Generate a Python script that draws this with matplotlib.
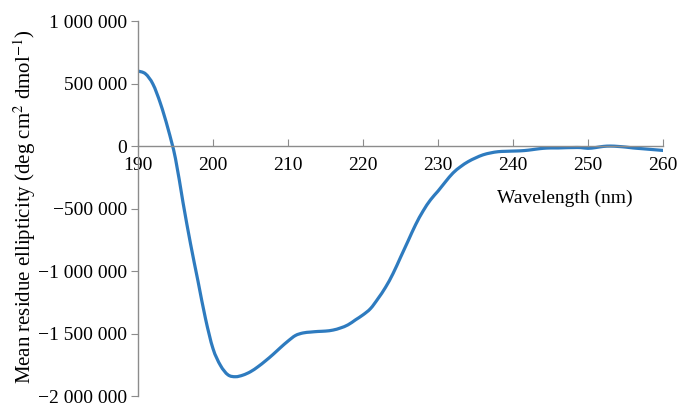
import numpy as np
import matplotlib
matplotlib.use("Agg")
import matplotlib.pyplot as plt
from matplotlib.path import Path
from matplotlib.patches import PathPatch
from matplotlib.ticker import FuncFormatter, MultipleLocator

# CD spectrum, values
wavelength = list(range(190, 261))
ellipticity = [
    600000, 578000, 495000, 340000, 140000, -100000, -450000, -780000, -1080000, -1380000,
    -1620000, -1755000, -1830000, -1845000, -1832000, -1805000, -1765000, -1718000, -1667000, -1612000,
    -1560000, -1515000, -1495000, -1488000, -1483000, -1480000, -1472000, -1455000, -1430000, -1390000,
    -1350000, -1300000, -1220000, -1130000, -1020000, -890000, -760000, -630000, -520000, -430000,
    -360000, -285000, -215000, -165000, -125000, -95000, -70000, -55000, -45000, -42000,
    -40000, -38000, -33000, -25000, -18000, -15000, -15000, -13000, -12000, -12000,
    -18000, -12000, -3000, 0, -3000, -8000, -15000, -20000, -25000, -30000,
    -35000,
]

xlabel = "Wavelength (nm)"
ylabel = "Mean residue ellipticity (deg cm$^2$ dmol$^{-1}$)"

plt.rcParams['font.family'] = ['Liberation Serif', 'DejaVu Serif']
plt.rcParams['mathtext.fontset'] = 'stix'

def fmt(v, pos):
    s = "{:,}".format(int(abs(v))).replace(",", " ")
    return ("\u2212" + s) if v < 0 else s

def smooth_path(x, y):
    # Excel-style smoothed line: Catmull-Rom segments as cubic Bezier curves
    p = np.column_stack([x, y]).astype(float)
    n = len(p)
    verts = [p[0]]
    codes = [Path.MOVETO]
    for i in range(n - 1):
        p0 = p[max(i - 1, 0)]
        p1 = p[i]
        p2 = p[i + 1]
        p3 = p[min(i + 2, n - 1)]
        verts += [p1 + (p2 - p0) / 6, p2 - (p3 - p1) / 6, p2]
        codes += [Path.CURVE4] * 3
    return Path(verts, codes)

fig = plt.figure(figsize=(6.78, 4.05), dpi=100)
ax = fig.add_axes([0.2035, 0.022, 0.7745, 0.926])
ax.add_patch(PathPatch(smooth_path(wavelength, ellipticity), facecolor='none',
                       edgecolor='#2E7BBF', linewidth=2.3, capstyle='round', joinstyle='round'))

ax.set_xlim(190, 260)
ax.set_ylim(-2000000, 1000000)
ax.xaxis.set_major_locator(MultipleLocator(10))
ax.yaxis.set_major_locator(MultipleLocator(500000))
ax.yaxis.set_major_formatter(FuncFormatter(fmt))

for s in ['top', 'right']:
    ax.spines[s].set_visible(False)
ax.spines['bottom'].set_position(('data', 0))
for s in ['left', 'bottom']:
    ax.spines[s].set_color('#8c8c8c')
    ax.spines[s].set_linewidth(1.0)

ax.tick_params(axis='x', direction='in', length=5, color='#8c8c8c', labelsize=14, pad=8)
ax.tick_params(axis='y', direction='out', length=5, color='#8c8c8c', labelsize=14, pad=3)

ax.text(246.9, -420000, xlabel, fontsize=14, ha='center', va='center')
fig.text(0.037, 0.489, ylabel, fontsize=15, rotation=90, ha='center', va='center')

fig.savefig("out.png", dpi=100)
